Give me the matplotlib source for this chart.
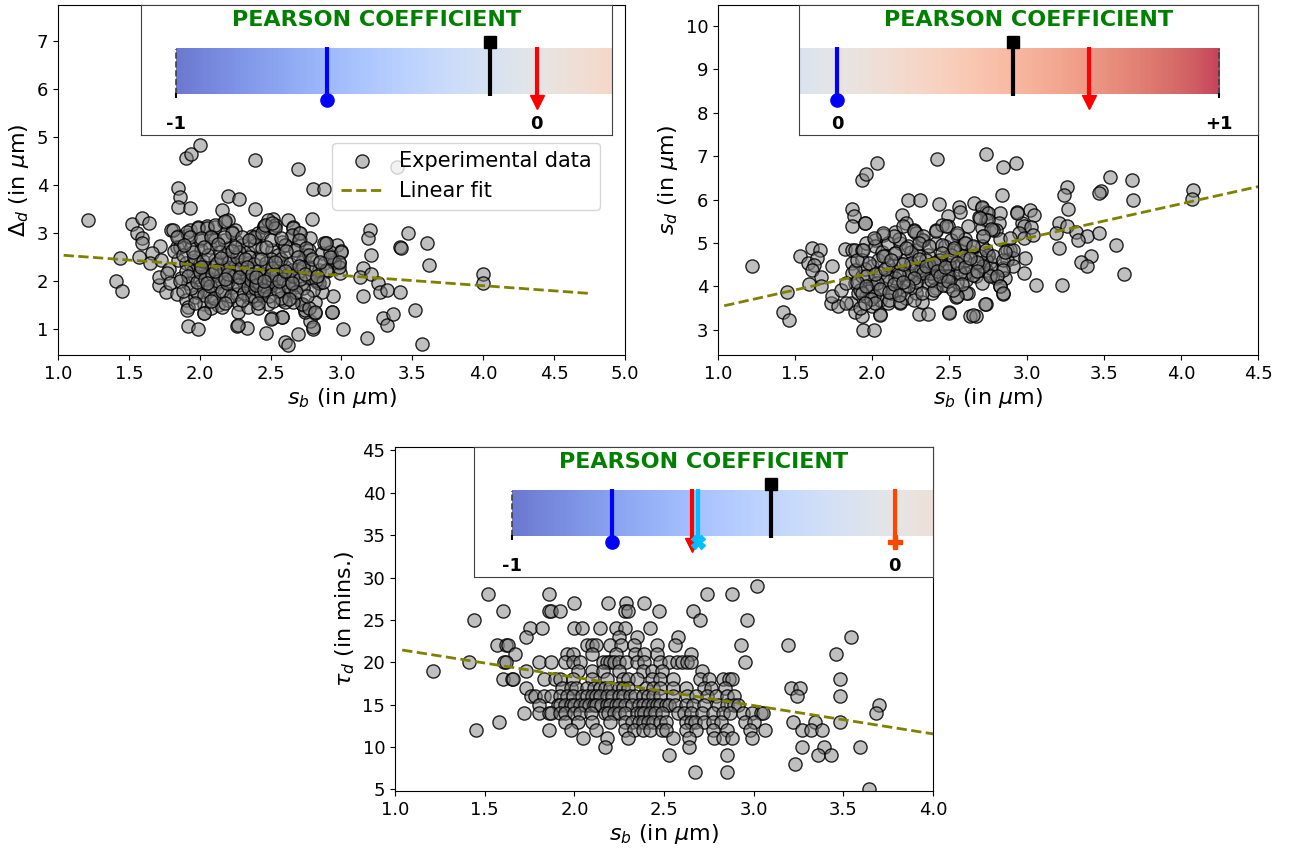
import numpy as np
import matplotlib
matplotlib.use("Agg")
import matplotlib.pyplot as plt

# ---- Delta_d against s_b ----
pts1 = [
    (1.21, 3.27), (1.41, 2.00), (1.45, 1.79), (1.44, 2.48), (1.52, 3.19), (1.59, 3.31), (1.64, 3.21),
    (1.56, 3.00), (1.59, 2.90), (1.59, 2.80), (1.57, 2.50), (1.72, 2.73), (1.66, 2.58), (1.65, 2.38),
    (1.71, 1.92), (1.71, 2.08), (1.76, 1.77), (1.73, 2.44), (1.85, 3.94), (1.86, 3.75), (1.85, 3.54),
    (1.93, 3.52), (1.90, 4.56), (1.94, 4.65), (2.00, 4.83), (2.39, 4.52), (2.20, 3.77), (2.28, 3.71),
    (2.39, 3.50), (2.16, 3.48), (2.69, 4.33), (2.80, 3.92), (2.88, 3.92), (2.79, 3.29), (2.52, 3.29),
    (2.52, 3.13), (2.45, 3.15), (1.92, 1.06), (1.99, 1.00), (2.26, 1.06), (2.33, 1.02), (2.47, 0.92),
    (2.60, 0.73), (2.62, 0.67), (2.69, 0.90), (2.51, 1.23), (2.58, 1.25), (2.80, 1.00), (3.01, 1.00),
    (2.93, 1.35), (2.78, 1.17), (2.94, 1.69), (2.89, 2.79), (2.97, 2.75), (3.00, 2.63), (2.83, 1.98),
    (2.86, 1.77), (2.81, 1.56), (2.73, 1.50), (2.74, 1.35), (2.93, 2.44), (2.98, 2.37), (2.99, 2.17),
    (3.20, 3.06), (3.19, 2.90), (3.47, 3.00), (3.60, 2.79), (3.41, 2.71), (3.42, 2.69), (3.62, 2.33),
    (3.21, 2.54), (3.15, 2.27), (3.13, 2.08), (3.21, 2.15), (3.26, 1.96), (3.27, 1.77), (3.32, 1.81),
    (3.41, 1.77), (3.15, 1.69), (3.29, 1.23), (3.32, 1.08), (3.36, 1.31), (3.52, 1.40), (3.18, 0.81),
    (3.57, 0.69), (4.00, 2.15), (4.00, 1.96), (3.39, 4.38),
    (1.80, 3.06), (1.85, 2.94), (1.92, 2.96), (1.93, 3.06), (1.99, 3.13), (2.05, 3.15), (2.08, 2.94),
    (2.11, 3.13), (2.17, 3.24), (2.20, 3.27), (2.23, 3.03), (2.25, 3.06), (2.37, 2.94), (2.39, 2.89),
    (2.41, 3.00), (2.45, 3.13), (2.48, 3.27), (2.53, 3.17), (2.62, 3.27), (2.65, 2.94), (2.66, 3.13),
    (2.70, 3.01), (2.71, 2.85), (2.78, 2.89),
    (1.84, 2.72), (1.86, 2.70), (1.94, 2.68), (2.00, 2.85), (2.01, 2.65), (2.07, 2.72), (2.11, 2.85),
    (2.17, 2.85), (2.20, 2.68), (2.26, 2.82), (2.30, 2.75), (2.34, 2.61), (2.39, 2.75), (2.44, 2.68),
    (2.51, 2.65), (2.58, 2.82), (2.60, 2.75), (2.67, 2.65), (2.74, 2.54), (2.77, 2.65), (2.86, 2.58),
    (2.88, 2.79),
    (1.78, 2.26), (1.85, 2.44), (1.90, 2.37), (1.94, 2.33), (1.97, 2.40), (2.01, 2.26), (2.06, 2.23),
    (2.11, 2.44), (2.16, 2.37), (2.20, 2.47), (2.25, 2.30), (2.30, 2.40), (2.34, 2.37), (2.41, 2.47),
    (2.46, 2.30), (2.51, 2.23), (2.56, 2.40), (2.60, 2.30), (2.65, 2.23), (2.72, 2.40), (2.77, 2.30),
    (2.84, 2.23), (2.88, 2.37), (2.93, 2.51),
    (1.77, 2.16), (1.79, 1.95), (1.87, 2.06), (1.92, 1.95), (1.97, 2.09), (2.01, 1.92), (2.06, 2.02),
    (2.13, 1.95), (2.18, 2.09), (2.23, 1.88), (2.30, 2.02), (2.34, 2.09), (2.39, 1.95), (2.44, 2.02),
    (2.48, 1.88), (2.53, 2.09), (2.58, 1.95), (2.63, 2.02), (2.67, 1.88), (2.72, 1.95), (2.77, 2.06),
    (2.84, 1.95),
    (1.84, 1.74), (1.90, 1.60), (1.92, 1.47), (1.97, 1.67), (2.03, 1.53), (2.08, 1.67), (2.13, 1.50),
    (2.17, 1.74), (2.20, 1.60), (2.26, 1.74), (2.28, 1.53), (2.34, 1.67), (2.39, 1.60), (2.44, 1.71),
    (2.48, 1.53), (2.58, 1.60), (2.63, 1.74), (2.67, 1.67), (2.72, 1.53),
    (1.91, 1.40), (2.03, 1.33), (2.08, 1.43), (2.16, 1.47), (2.27, 1.36), (2.34, 1.47), (2.41, 1.43),
    (2.74, 1.40), (2.81, 1.33),
    (2.31, 2.15), (2.36, 1.85), (2.40, 2.12), (2.42, 1.80), (2.45, 1.95), (2.47, 2.15), (2.50, 1.90),
    (2.33, 1.95), (2.38, 2.02), (2.44, 1.88), (2.05, 2.10), (2.10, 2.30), (2.15, 2.15), (2.20, 2.00),
    (2.25, 2.20), (1.95, 2.20), (2.00, 2.35), (2.12, 1.85), (2.28, 2.60), (2.35, 2.50), (2.55, 2.55),
    (2.50, 2.45), (2.62, 2.15), (2.70, 2.20), (2.06, 1.80), (1.98, 1.78), (2.19, 2.55), (2.58, 1.80),
    (2.90, 2.20), (2.95, 2.40), (2.98, 2.30), (2.92, 2.60),
    (1.81, 3.06), (1.91, 3.03), (1.99, 3.10), (2.05, 3.11), (2.11, 3.17), (2.23, 3.01), (2.30, 2.92),
    (2.38, 2.92), (2.44, 3.00), (2.46, 3.17), (2.53, 3.11), (2.66, 3.11), (2.65, 2.96), (2.71, 3.00),
    (2.70, 2.85), (2.89, 2.80), (3.00, 2.61), (1.84, 2.92), (1.93, 2.92), (2.01, 2.89), (2.08, 2.92),
    (2.17, 2.92), (2.35, 2.85), (2.50, 2.85), (2.60, 2.75), (2.67, 2.65), (2.75, 2.68), (2.77, 2.54),
    (2.92, 2.51), (2.98, 2.40), (2.89, 2.23), (2.78, 2.26), (2.82, 2.02), (2.87, 1.99), (2.80, 1.81),
    (2.73, 1.85), (2.72, 1.53), (2.77, 1.45), (2.81, 1.36), (2.93, 1.36), (2.66, 1.57), (2.60, 1.57),
    (2.57, 1.64), (2.58, 1.26), (2.50, 1.22), (2.03, 1.33), (2.27, 1.08), (2.80, 1.05), (2.18, 3.26),
    (2.51, 3.20),
    (1.82, 2.62), (1.88, 2.55), (1.90, 2.20), (1.92, 2.10), (1.94, 1.85), (1.96, 2.50), (1.98, 1.98),
    (2.00, 2.18), (2.02, 2.42), (2.03, 1.72), (2.04, 2.05), (2.06, 2.55), (2.07, 1.90), (2.09, 2.15),
    (2.10, 1.65), (2.12, 2.38), (2.13, 2.00), (2.14, 2.60), (2.16, 1.80), (2.17, 2.25), (2.19, 1.95),
    (2.21, 2.40), (2.22, 1.70), (2.24, 2.10), (2.26, 2.50), (2.27, 1.92), (2.29, 2.28), (2.31, 1.75),
    (2.32, 2.45), (2.34, 1.88), (2.35, 2.20), (2.36, 2.02), (2.37, 1.70), (2.38, 2.35), (2.39, 1.85),
    (2.40, 2.00), (2.41, 2.22), (2.42, 1.95), (2.43, 1.75), (2.44, 2.10), (2.46, 1.90), (2.47, 2.38),
    (2.48, 2.05), (2.49, 1.68), (2.51, 2.28), (2.52, 1.98), (2.54, 2.15), (2.55, 1.80), (2.57, 2.45),
    (2.59, 2.05), (2.61, 2.62), (2.62, 1.90), (2.64, 2.35), (2.66, 2.10), (2.68, 1.78), (2.69, 2.50),
    (2.71, 2.05), (2.73, 2.30), (2.76, 1.70), (2.79, 2.45), (1.86, 2.00), (1.88, 1.80), (1.95, 2.60),
    (2.01, 2.30), (2.05, 1.97), (2.11, 2.22), (2.15, 2.48), (2.20, 2.15), (2.23, 2.62), (2.28, 2.08),
    (2.33, 2.30), (2.37, 2.15), (2.40, 1.92), (2.43, 2.45), (2.45, 1.82), (2.50, 2.12), (2.53, 2.40),
    (2.56, 2.00), (2.60, 2.20), (2.65, 1.95), (2.70, 2.32), (2.74, 2.15), (2.83, 2.10), (2.85, 2.40),
    (1.97, 1.55), (2.08, 1.58), (2.18, 1.55), (2.30, 1.60), (2.41, 1.55), (2.52, 1.58), (2.63, 1.62),
    (1.89, 2.75), (2.03, 2.70), (2.13, 2.78), (2.25, 2.70), (2.47, 2.70), (2.57, 2.90), (2.18, 2.05),
    (2.40, 2.08), (2.45, 2.00),
]

# ---- s_d against s_b ----
pts2 = [
    (1.22, 4.47), (1.42, 3.40), (1.46, 3.22), (1.45, 3.88), (1.53, 4.69), (1.58, 4.54), (1.61, 4.88),
    (1.66, 4.84), (1.64, 4.65), (1.62, 4.50), (1.61, 4.38), (1.59, 4.06), (1.67, 4.22), (1.67, 4.00),
    (1.74, 4.46), (1.73, 3.61), (1.78, 3.54), (1.74, 3.77), (1.86, 3.61), (1.82, 4.86), (1.87, 4.84),
    (1.87, 4.55), (1.87, 5.78), (1.88, 5.63), (1.87, 5.38), (1.93, 6.45), (1.96, 6.58), (2.03, 6.84),
    (1.95, 5.46), (1.94, 2.99), (2.01, 2.99), (1.89, 3.40), (1.93, 3.31), (2.05, 3.37), (2.23, 5.98),
    (2.31, 5.98), (2.42, 6.93), (2.43, 5.90), (2.30, 3.37), (2.36, 3.37), (2.50, 3.40), (2.54, 3.75),
    (2.62, 3.84), (2.63, 3.32), (2.67, 3.32), (2.74, 3.60), (2.74, 7.05), (2.66, 5.92), (2.71, 5.80),
    (2.74, 5.72), (2.56, 5.84), (2.57, 5.72), (2.49, 5.63),
    (2.85, 6.76), (2.93, 6.84), (2.84, 6.11), (3.26, 6.30), (3.24, 6.11), (3.54, 6.53), (3.68, 6.44),
    (3.69, 5.99), (3.48, 6.19), (3.47, 6.15), (3.27, 5.78), (3.21, 5.46), (3.26, 5.40), (3.32, 5.26),
    (3.39, 5.16), (3.33, 5.07), (3.19, 5.23), (3.47, 5.23), (3.58, 4.95), (3.21, 4.89), (3.42, 4.70),
    (3.35, 4.57), (3.39, 4.46), (3.63, 4.28), (3.06, 4.04), (3.23, 4.04), (4.08, 6.21), (4.07, 6.01),
    (2.94, 5.72), (3.02, 5.75), (3.05, 5.65), (2.97, 5.46), (2.98, 5.40), (3.03, 5.36), (2.95, 5.23),
    (2.98, 5.11), (3.04, 5.19), (2.83, 5.70), (2.82, 5.46), (2.80, 5.30), (2.72, 5.15), (2.83, 5.09),
    (2.87, 4.84), (2.89, 4.84), (2.91, 4.65), (2.87, 4.60), (2.99, 4.65), (2.98, 4.31), (2.75, 4.73),
    (2.76, 4.57), (2.74, 4.38), (2.76, 4.27), (2.80, 4.19), (2.85, 4.42), (2.86, 4.19), (2.83, 4.00),
    (2.85, 3.83), (2.73, 3.60), (2.71, 5.84), (2.75, 5.70), (2.74, 5.53), (2.71, 5.34),
    (2.02, 5.07), (2.07, 5.19), (2.15, 5.26), (2.19, 5.65), (2.22, 5.46), (2.27, 5.30), (2.28, 5.23),
    (2.33, 5.07), (2.41, 5.30), (2.45, 5.42), (2.49, 5.38), (2.55, 5.19), (2.62, 5.38), (2.69, 5.61),
    (2.75, 5.53), (2.78, 5.30),
    (1.89, 4.84), (1.93, 4.84), (1.96, 4.99), (2.02, 4.92), (2.06, 4.80), (2.10, 4.99), (2.15, 4.77),
    (2.18, 4.99), (2.23, 4.92), (2.28, 4.84), (2.32, 5.07), (2.36, 4.73), (2.41, 4.99), (2.47, 4.92),
    (2.51, 5.07), (2.57, 4.84), (2.60, 4.99), (2.64, 4.80), (2.71, 4.92), (2.75, 4.73),
    (1.87, 4.31), (1.93, 4.61), (2.00, 4.46), (2.04, 4.61), (2.08, 4.69), (2.13, 4.38), (2.17, 4.54),
    (2.21, 4.61), (2.26, 4.46), (2.30, 4.69), (2.34, 4.38), (2.39, 4.50), (2.43, 4.61), (2.47, 4.38),
    (2.51, 4.65), (2.56, 4.46), (2.60, 4.61), (2.64, 4.34), (2.69, 4.54), (2.74, 4.61), (2.77, 4.42),
    (1.89, 4.08), (1.93, 4.23), (1.97, 4.00), (2.02, 4.15), (2.06, 3.96), (2.10, 4.23), (2.16, 4.08),
    (2.19, 3.92), (2.23, 4.15), (2.28, 4.00), (2.33, 4.23), (2.36, 4.08), (2.41, 3.96), (2.45, 4.15),
    (2.49, 4.00), (2.54, 4.31), (2.61, 4.15), (2.67, 4.23), (2.71, 4.08), (2.76, 4.23),
    (1.91, 3.84), (1.96, 3.77), (2.00, 3.54), (2.05, 3.69), (2.10, 3.61), (2.15, 3.84), (2.18, 3.61),
    (2.22, 3.73), (2.28, 3.84), (2.32, 3.65), (2.39, 3.84),
    (2.20, 4.30), (2.25, 4.25), (2.30, 4.35), (2.35, 4.60), (2.40, 4.20), (2.45, 4.40), (2.50, 4.50),
    (2.55, 4.10), (2.60, 4.30), (2.48, 4.25), (2.42, 4.55), (2.38, 4.30), (2.15, 4.20), (2.10, 4.50),
    (2.05, 4.30), (2.00, 4.00), (1.95, 4.40), (2.28, 4.10), (2.33, 4.45), (2.52, 4.85), (2.60, 5.10),
    (2.17, 5.10), (2.25, 4.80), (1.98, 3.90), (2.12, 3.85), (2.70, 4.70), (2.65, 4.90),
    (1.95, 5.46), (2.20, 5.38), (2.27, 5.27), (2.33, 5.15), (2.41, 5.27), (2.48, 5.38), (2.55, 5.23),
    (2.60, 4.99), (2.65, 4.92), (2.74, 4.84), (2.78, 4.69), (2.85, 4.61), (2.91, 4.46), (2.85, 4.38),
    (2.81, 4.23), (2.83, 4.02), (2.85, 3.85), (2.65, 3.35), (2.61, 3.84), (2.55, 3.77), (2.50, 3.38),
    (2.05, 3.35), (1.92, 3.50), (1.83, 3.61), (1.80, 3.92), (1.83, 4.07), (1.92, 3.92), (2.01, 3.77),
    (2.11, 3.69), (2.18, 3.63), (2.27, 3.69), (2.32, 3.84), (2.40, 3.92), (2.46, 4.04), (2.50, 4.23),
    (2.57, 4.31), (2.65, 4.27), (2.72, 4.46), (2.68, 4.57), (2.59, 4.69), (2.51, 4.73), (2.44, 4.61),
    (2.37, 4.50), (2.31, 4.38), (2.24, 4.31), (2.17, 4.27), (2.09, 4.15), (2.03, 4.07), (1.96, 4.23),
    (1.89, 4.38), (1.90, 4.61), (1.98, 4.54), (2.07, 4.69), (2.15, 4.77), (2.22, 4.88), (2.30, 4.99),
    (2.37, 4.92), (2.45, 4.96), (2.53, 4.88), (2.14, 5.15), (2.07, 5.23), (2.01, 5.11), (1.94, 4.84),
    (2.25, 4.55), (2.28, 4.40), (2.30, 4.62), (2.33, 4.30), (2.35, 4.48), (2.38, 4.15), (2.40, 4.55),
    (2.42, 4.35), (2.44, 4.25), (2.47, 4.45), (2.49, 4.12), (2.27, 4.20), (1.90, 4.10), (1.93, 3.85),
    (1.96, 4.00), (1.99, 3.72), (2.02, 4.28), (2.05, 3.95), (2.08, 4.40), (2.11, 3.88), (2.14, 4.05),
    (2.17, 3.80), (2.20, 4.52), (2.23, 4.00), (2.02, 3.62), (1.95, 3.62), (2.12, 4.60), (2.20, 4.10),
    (2.45, 4.78), (2.55, 4.55), (2.60, 4.45), (2.63, 4.65), (2.68, 4.35), (2.58, 4.05), (2.52, 3.92),
    (2.91, 4.84), (2.86, 4.80), (2.89, 5.11), (2.77, 5.32), (2.72, 5.15), (2.70, 5.57), (2.94, 5.70),
]

# ---- tau_d against s_b (tau recorded in whole minutes) ----
tau_rows = [29, 28, 27, 26, 25, 24, 23, 22, 21, 20, 19, 18, 17, 16, 15, 14, 13, 12, 11, 10, 9, 8, 7, 5]
sb_rows = [
    [3.02],
    [1.52, 1.86, 2.74, 2.88],
    [2.00, 2.19, 2.29, 2.39],
    [1.60, 1.86, 1.87, 1.92, 2.28, 2.30, 2.47, 2.66],
    [1.44, 2.70, 2.96],
    [1.75, 1.82, 2.00, 2.04, 2.14, 2.23, 2.28, 2.42],
    [1.73, 2.25, 2.35, 2.58, 3.54],
    [1.57, 1.62, 1.63, 2.07, 2.10, 2.12, 2.20, 2.26, 2.33, 2.46, 2.56, 2.93, 3.19],
    [1.67, 1.96, 1.99, 2.10, 2.23, 2.34, 2.39, 2.46, 2.65, 3.46],
    [1.41, 1.61, 1.62, 1.80, 1.87, 1.95, 1.99, 2.03, 2.16, 2.18, 2.20, 2.22, 2.25, 2.29, 2.35,
     2.39, 2.48, 2.53, 2.57, 2.60, 2.63, 2.65, 2.95],
    [1.21, 1.73, 2.02, 2.10, 2.16, 2.25, 2.38, 2.43, 2.49, 2.71],
    [1.60, 1.65, 1.66, 1.83, 1.89, 1.92, 1.99, 2.10, 2.18, 2.27, 2.30, 2.35, 2.43, 2.48, 2.55,
     2.70, 2.75, 2.83, 2.86, 2.88, 3.48],
    [1.73, 1.93, 1.98, 2.01, 2.07, 2.11, 2.14, 2.17, 2.20, 2.25, 2.27, 2.30, 2.40, 2.44, 2.48,
     2.55, 2.62, 2.72, 2.76, 2.84, 3.21, 3.26],
    [1.76, 1.78, 1.83, 1.87, 1.92, 1.96, 1.99, 2.04, 2.07, 2.10, 2.12, 2.14, 2.18, 2.21, 2.25,
     2.27, 2.31, 2.34, 2.38, 2.41, 2.44, 2.48, 2.55, 2.63, 2.68, 2.74, 2.79, 2.85, 2.89, 3.24, 3.48],
    [1.80, 1.91, 1.92, 1.95, 1.98, 2.00, 2.03, 2.06, 2.08, 2.11, 2.12, 2.15, 2.18, 2.20, 2.23,
     2.25, 2.28, 2.32, 2.36, 2.38, 2.41, 2.44, 2.46, 2.48, 2.51, 2.53, 2.56, 2.62, 2.66, 2.72,
     2.80, 2.85, 2.89, 2.91, 3.70],
    [1.72, 1.80, 1.86, 1.87, 1.92, 1.95, 2.00, 2.03, 2.09, 2.17, 2.19, 2.22, 2.25, 2.28, 2.35,
     2.37, 2.39, 2.42, 2.45, 2.49, 2.58, 2.61, 2.65, 2.71, 2.77, 2.83, 2.87, 2.94, 2.99, 3.04,
     3.05, 3.68],
    [1.58, 1.95, 2.02, 2.10, 2.20, 2.28, 2.32, 2.36, 2.38, 2.41, 2.44, 2.48, 2.51, 2.62, 2.65,
     2.67, 2.72, 2.77, 2.82, 2.95, 3.00, 3.22, 3.34, 3.48],
    [1.45, 1.86, 1.98, 2.12, 2.28, 2.33, 2.38, 2.42, 2.49, 2.51, 2.62, 2.68, 2.77, 2.85, 2.98,
     3.06, 3.27, 3.32, 3.38],
    [2.05, 2.18, 2.30, 2.55, 2.64, 2.78, 2.83, 2.88, 2.99],
    [2.17, 2.64, 3.27, 3.39, 3.59],
    [2.53, 2.85, 3.36, 3.43],
    [3.23],
    [2.67, 2.85],
    [3.64],
]

# linear fits (slope, intercept) and the s_b span they are drawn over
fit1 = (-0.214, 2.76)
fit2 = (0.793, 2.73)
fit3 = (-3.345, 24.92)
fit_span = (1.04, 4.75)

# Pearson coefficients marked on each colour bar: (r, colour, marker)
marks1 = [(-0.58, 'blue', 'o'), (-0.13, 'black', 's'), (0.0, 'red', 'v')]
marks2 = [(0.0, 'blue', 'o'), (0.46, 'black', 's'), (0.66, 'red', 'v')]
marks3 = [(-0.74, 'blue', 'o'), (-0.53, 'red', 'v'), (-0.515, 'deepskyblue', 'X'),
          (-0.325, 'black', 's'), (0.0, 'orangered', 'P')]

sb1, dd1 = np.array(pts1).T
sb2, sd2 = np.array(pts2).T
sb3 = np.array([v for row in sb_rows for v in row])
tau3 = np.array([t for t, row in zip(tau_rows, sb_rows) for _ in row])

SC = dict(s=90, facecolors=(0.5, 0.5, 0.5, 0.5), edgecolors=(0, 0, 0, 0.85), linewidths=1.0)
FIT = dict(color='olive', ls='--', lw=2)


def pearson_inset(ax, rect, xlim, bar, dash_at, labels, marks):
    ins = ax.inset_axes(rect)
    ins.set_xlim(xlim)
    ins.set_ylim(0, 1)
    ins.set_xticks([])
    ins.set_yticks([])
    ins.set_facecolor('white')
    for sp in ins.spines.values():
        sp.set_color('0.25')
    y0, y1 = 0.315, 0.662
    grad = np.linspace(bar[0], bar[1], 256)[None, :]
    ins.imshow(grad, extent=[bar[0], bar[1], y0, y1], cmap='coolwarm', vmin=-1, vmax=1,
               alpha=0.75, aspect='auto', interpolation='bilinear')
    ins.plot([dash_at, dash_at], [y0, y1], ls='--', color='0.25', lw=1.2)
    ins.plot([dash_at, dash_at], [y0 - 0.02, y0], color='black', lw=1.5)
    ins.text(0.5, 0.885, 'PEARSON COEFFICIENT', transform=ins.transAxes, color='green',
             fontweight='bold', fontsize=16, ha='center', va='center')
    for val, txt in labels:
        ins.text(val, 0.085, txt, ha='center', va='center', fontweight='bold', fontsize=13)
    for r, col, m in marks:
        if m == 's':
            ins.plot([r, r], [0.3, 0.715], color=col, lw=3, solid_capstyle='butt')
            ins.plot(r, 0.715, marker='s', color=col, ms=9)
        elif m == 'v':
            ins.plot([r, r], [0.677, 0.27], color=col, lw=3, solid_capstyle='butt')
            ins.plot(r, 0.25, marker='v', color=col, ms=10)
        else:
            ins.plot([r, r], [0.677, 0.27], color=col, lw=3, solid_capstyle='butt')
            ins.plot(r, 0.27, marker=m, color=col, ms=9.5)
    return ins


fig = plt.figure(figsize=(12.94, 8.51), dpi=100)
ax1 = fig.add_axes([0.0448, 0.5828, 0.4382, 0.4113])
ax2 = fig.add_axes([0.5549, 0.5828, 0.4173, 0.4113])
ax3 = fig.add_axes([0.3053, 0.0705, 0.4158, 0.4042])

xf = np.array(fit_span)
for ax, x, y, fit in [(ax1, sb1, dd1, fit1), (ax2, sb2, sd2, fit2), (ax3, sb3, tau3, fit3)]:
    ax.scatter(x, y, label='Experimental data', **SC)
    ax.plot(xf, fit[0] * xf + fit[1], label='Linear fit', **FIT)
    ax.set_xlabel(r'$s_b$ (in $\mu$m)', fontsize=16, labelpad=2)
    ax.tick_params(labelsize=13)

ax1.set_xlim(1.0, 5.0)
ax1.set_ylim(0.46, 7.75)
ax1.set_yticks(range(1, 8))
ax1.set_ylabel(r'$\Delta_d$ (in $\mu$m)', fontsize=16)
ax1.legend(loc='upper right', bbox_to_anchor=(0.956, 0.607), borderaxespad=0, fontsize=15)

ax2.set_xlim(1.0, 4.5)
ax2.set_ylim(2.42, 10.48)
ax2.set_yticks(range(3, 11))
ax2.set_ylabel(r'$s_d$ (in $\mu$m)', fontsize=16)

ax3.set_xlim(1.0, 4.0)
ax3.set_ylim(4.8, 45.4)
ax3.set_yticks(range(5, 50, 5))
ax3.set_ylabel(r'$\tau_d$ (in mins.)', fontsize=16)

pearson_inset(ax1, [0.146, 0.629, 0.831, 0.371], (-1.097, 0.208), (-1.0, 0.208), -1.0,
              [(-1, '-1'), (0, '0')], marks1)
pearson_inset(ax2, [0.15, 0.629, 0.85, 0.371], (-0.1, 1.102), (-0.1, 1.0), 1.0,
              [(0, '0'), (1, '+1')], marks2)
pearson_inset(ax3, [0.147, 0.621, 0.853, 0.379], (-1.1, 0.1), (-1.0, 0.1), -1.0,
              [(-1, '-1'), (0, '0')], marks3)

fig.savefig('out.png', dpi=100)
